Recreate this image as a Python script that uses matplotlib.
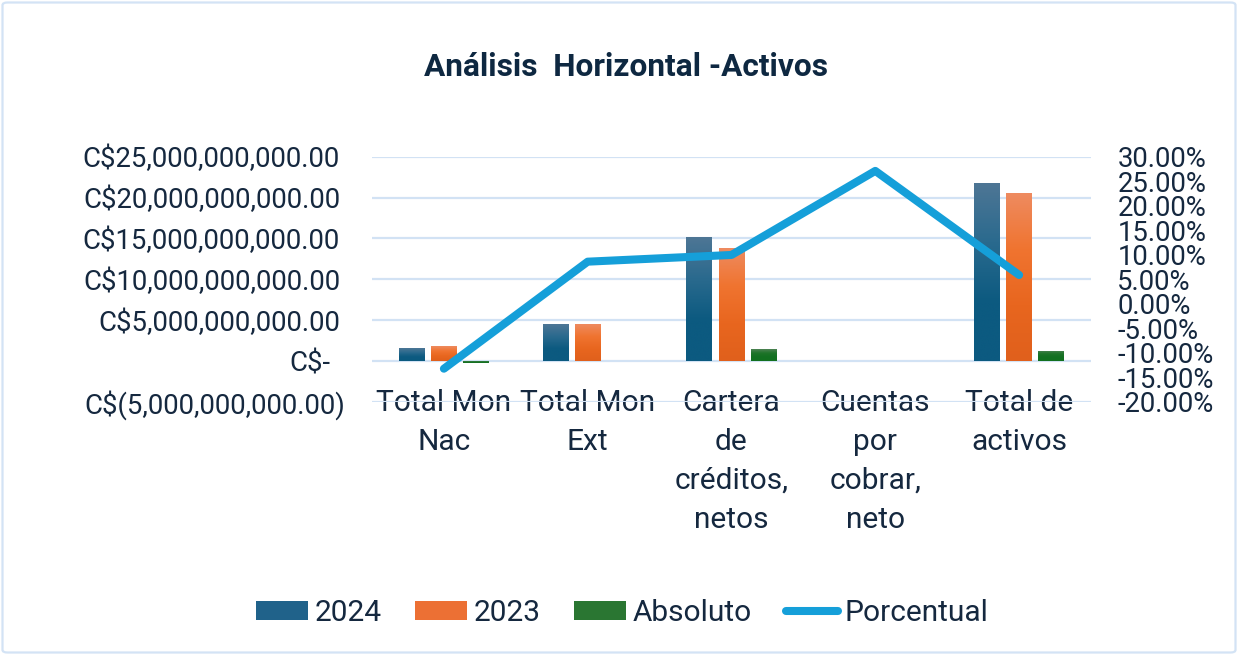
import numpy as np
import matplotlib
matplotlib.use("Agg")
import matplotlib.pyplot as plt
from matplotlib.patches import FancyBboxPatch, Patch
from matplotlib.lines import Line2D
from matplotlib.colors import LinearSegmentedColormap
from matplotlib.transforms import ScaledTranslation
from matplotlib.ticker import FixedLocator, FuncFormatter

# ---------------- data ----------------
categories = ["Total Mon\nNac", "Total Mon\nExt", "Cartera\nde\ncréditos,\nnetos",
              "Cuentas\npor\ncobrar,\nneto", "Total de\nactivos"]
values_2024 = [1.56e9, 4.50e9, 15.16e9, 0.012e9, 21.78e9]
values_2023 = [1.80e9, 4.50e9, 13.80e9, 0.0095e9, 20.55e9]
absoluto = [-0.24e9, 0.0, 1.38e9, 0.0025e9, 1.25e9]
porcentual = [-0.133, 0.0856, 0.0993, 0.271, 0.0584]
series_names = ["2024", "2023", "Absoluto", "Porcentual"]

left_ticks = [-5e9, 0, 5e9, 10e9, 15e9, 20e9, 25e9]
right_ticks = [-0.20, -0.15, -0.10, -0.05, 0.0, 0.05, 0.10, 0.15, 0.20, 0.25, 0.30]

# ---------------- style ----------------
TEXT = "#15283F"
FONT = ["Roboto", "DejaVu Sans"]
plt.rcParams["font.family"] = FONT

grad_2024 = ["#4E7695", "#2A6A8E", "#0C5A80", "#0C5A80"]
grad_2023 = ["#EE8B60", "#F07430", "#E8661F", "#E0601C"]
grad_abs = ["#4F8355", "#1E7429", "#127020", "#127020"]
line_color = "#159FD9"
grid_color = "#D2E2F4"

fig = plt.figure(figsize=(12.38, 6.56), dpi=100)
W, H = 1238, 656

# border
border = FancyBboxPatch((2.5 / W, 3.5 / H), (W - 5) / W, (H - 6) / H,
                        boxstyle="round,pad=0,rounding_size=0.004",
                        transform=fig.transFigure, facecolor="none",
                        edgecolor="#D3E3F5", linewidth=1.6, zorder=-1)
fig.patches.append(border)

ax_l, ax_r, ax_t, ax_b = 372, 1091, 156.7, 401.5
ax = fig.add_axes([ax_l / W, 1 - ax_b / H, (ax_r - ax_l) / W, (ax_b - ax_t) / H])
ax.set_facecolor("none")
ax2 = ax.twinx()

x = np.arange(len(categories))
bw = 0.18
off = 0.223

def gradient_bars(bars, colors):
    cmap = LinearSegmentedColormap.from_list("g", colors)
    grad = np.linspace(0, 1, 256).reshape(-1, 1)
    for b in bars:
        x0, y0 = b.get_x(), b.get_y()
        w, h = b.get_width(), b.get_height()
        if h == 0:
            continue
        top = max(y0, y0 + h)
        bot = min(y0, y0 + h)
        b.set_facecolor("none")
        b.set_edgecolor("none")
        im = ax.imshow(grad, cmap=cmap, aspect="auto",
                       extent=[x0, x0 + w, bot, top], origin="upper",
                       interpolation="bicubic", zorder=2)
        im.set_clip_path(b)

b1 = ax.bar(x - off, values_2024, bw, zorder=2)
b2 = ax.bar(x, values_2023, bw, zorder=2)
b3 = ax.bar(x + off, absoluto, bw, zorder=2)
gradient_bars(b1, grad_2024)
gradient_bars(b2, grad_2023)
gradient_bars(b3, grad_abs)

ax.set_xlim(-0.5, len(categories) - 0.5)
ax.set_ylim(left_ticks[0], left_ticks[-1])
ax.yaxis.set_major_locator(FixedLocator(left_ticks))

def money(v, pos=None):
    if abs(v) < 1:
        return "C$-"
    if v < 0:
        return "C$({:,.2f})".format(-v)
    return "C${:,.2f}".format(v)

ax.yaxis.set_major_formatter(FuncFormatter(money))
ax.grid(axis="y", color=grid_color, linewidth=1.6, zorder=0)
ax.set_axisbelow(True)
ax.set_xticks(x)
ax.set_xticklabels(categories, fontsize=21.5, color=TEXT, linespacing=1.5)
ax.tick_params(axis="x", length=0, pad=-9)
ax.tick_params(axis="y", length=0, pad=23, labelsize=19.8, labelcolor=TEXT)
for sp in ax.spines.values():
    sp.set_visible(False)

fig.canvas.draw()
for lab in ax.get_yticklabels():
    t = lab.get_text()
    if t == "C$-":
        lab.set_transform(lab.get_transform() + ScaledTranslation(-10 / 100, 0, fig.dpi_scale_trans))
    elif t.startswith("C$("):
        lab.set_transform(lab.get_transform() + ScaledTranslation(5 / 100, 0, fig.dpi_scale_trans))

# percent line
ax2.plot(x, porcentual, color=line_color, linewidth=5.8, solid_capstyle="round",
         solid_joinstyle="round", zorder=3)
ax2.set_ylim(right_ticks[0], right_ticks[-1])
ax2.yaxis.set_major_locator(FixedLocator(right_ticks))
ax2.yaxis.set_major_formatter(FuncFormatter(lambda v, p: "{:.2f}%".format(v * 100)))
ax2.tick_params(axis="y", length=0, pad=19, labelsize=19.8, labelcolor=TEXT)
for sp in ax2.spines.values():
    sp.set_visible(False)

# title
fig.text(625.5 / W, 1 - 67 / H, "Análisis  Horizontal -Activos", ha="center", va="center",
         fontsize=22.8, fontweight="bold", color="#0E2841")

# legend
handles = [Patch(facecolor="#20628A", edgecolor="none"),
           Patch(facecolor="#EC7034", edgecolor="none"),
           Patch(facecolor="#2A7632", edgecolor="none"),
           Line2D([], [], color=line_color, linewidth=5.8, solid_capstyle="round")]
leg = fig.legend(handles, series_names, loc="center", bbox_to_anchor=(622 / W, 1 - 613 / H),
                 ncol=4, frameon=False, fontsize=21.5, handlelength=1.74, handleheight=0.64,
                 handletextpad=0.23, columnspacing=1.12, labelcolor=TEXT)

fig.savefig("out.png", dpi=100, facecolor="white")
